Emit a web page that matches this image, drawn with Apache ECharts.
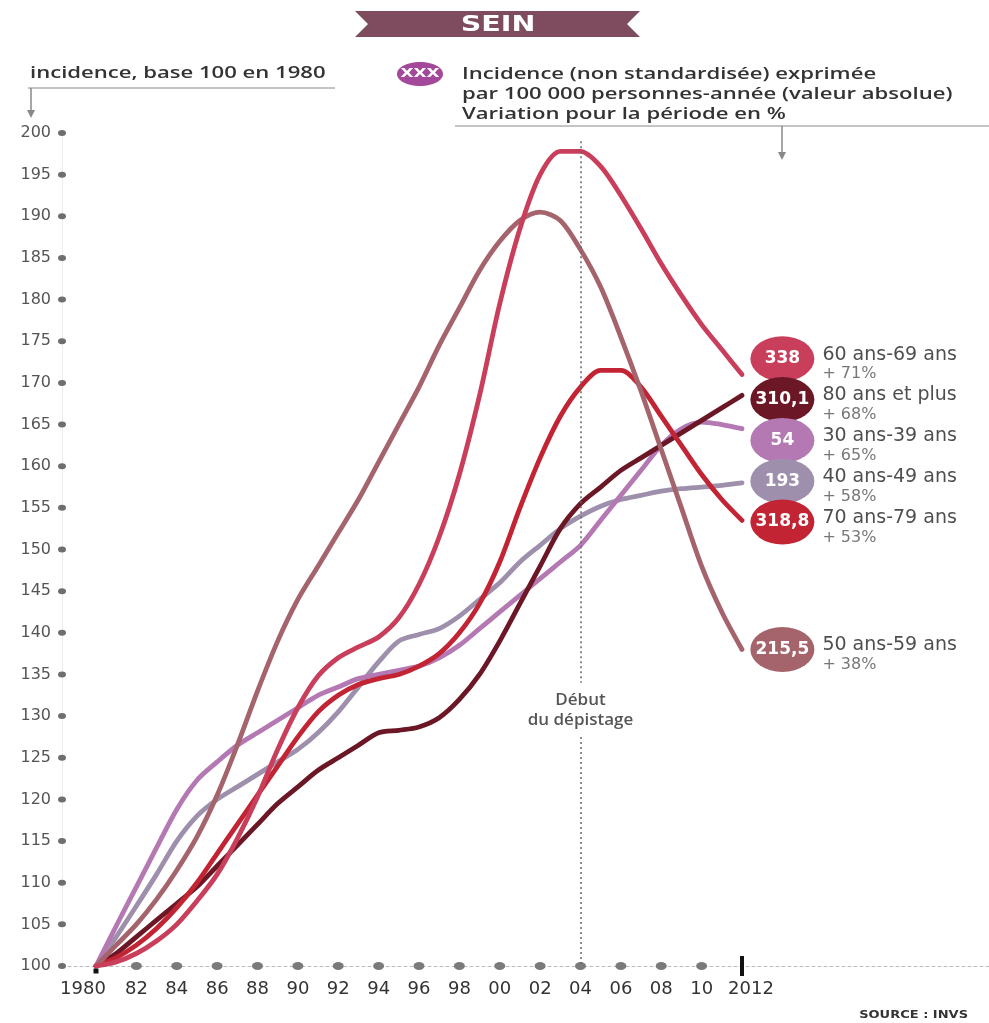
<!DOCTYPE html>
<html><head><meta charset="utf-8">
<script src="https://cdn.jsdelivr.net/npm/echarts@6/dist/echarts.min.js"></script>
<style>html,body{margin:0;padding:0;background:#fff}#c{width:989px;height:1023px}</style>
</head><body><div id="c"></div>
<script>
// ---------- DATA ----------
const years = [1980,1981,1982,1983,1984,1985,1986,1987,1988,1989,1990,1991,1992,1993,1994,1995,1996,1997,1998,1999,2000,2001,2002,2003,2004,2005,2006,2007,2008,2009,2010,2011,2012];
const v60_69 = [100,100.5,101.5,103,105,107.8,111,115.3,120.3,126,131,134.8,137,138.3,139.5,141.8,145.8,151.5,159,168.5,179.5,188.5,195,197.8,197.8,196,192.5,188.5,184.3,180.5,177,174,171];
const v80plus = [100,101.5,103.5,105.5,107.5,109.5,112,114.5,117,119.5,121.5,123.5,125,126.5,128,128.3,128.7,129.8,132,135,139,143.5,148,152.5,155.5,157.5,159.5,161,162.5,164,165.5,167,168.5];
const v30_39 = [100,104.8,109.5,114.2,118.8,122.3,124.5,126.5,128,129.5,131,132.5,133.5,134.5,135,135.5,136,137,138.5,140.5,142.5,144.5,146.5,148.5,150.5,153.5,156.5,159.5,162.5,164.5,165.3,165,164.5];
const v40_49 = [100,103.5,107.2,111,115,118,120,121.5,123,124.5,126,128,130.5,133.5,136.5,139,139.8,140.5,142,144,146,148.5,150.5,152.5,154,155.2,156,156.5,157,157.3,157.5,157.7,158];
const v70_79 = [100,101,102.5,104.5,107,110,113.5,117,120.5,124,127.5,130.5,132.5,133.8,134.5,135,136,137.5,140,143.5,148.5,155,161,166,169.5,171.5,171.5,169.5,166,162.5,159,156,153.5];
const v50_59 = [100,102.5,105,108,111.5,115.5,120.5,126.5,133,139,144,148,152,156,160.5,165,169.5,174.5,179,183.5,187,189.5,190.5,189.5,186,181.5,175.5,169,162,155,148,142.5,138];

const groupNames = ['60 ans-69 ans','80 ans et plus','30 ans-39 ans','40 ans-49 ans','70 ans-79 ans','50 ans-59 ans'];
const absIncidence = ['338','310,1','54','193','318,8','215,5'];
const variation = ['+ 71%','+ 68%','+ 65%','+ 58%','+ 53%','+ 38%'];
const groupValues = [v60_69, v80plus, v30_39, v40_49, v70_79, v50_59];

const yTicks = [100,105,110,115,120,125,130,135,140,145,150,155,160,165,170,175,180,185,190,195,200];
const xTickYears = [1980,1982,1984,1986,1988,1990,1992,1994,1996,1998,2000,2002,2004,2006,2008,2010,2012];
const screeningYear = 2004;
const screeningText = 'Début\ndu dépistage';

// ---------- STYLE ----------
const colors = ['#c93f5b','#6b1726','#b478b2','#9e90ac','#c22434','#a5646c'];
const drawOrder = [3,2,1,4,5,0];
const pxPerYear = 646/32;
const xMin = 1980 - 34/pxPerYear;
const xMax = 2012 + 247/pxPerYear;
const bubbleX = 2014;
const SX = 1.38;

function spread(vals, gap){
  const idx = vals.map((v,i)=>i).sort((a,b)=>vals[b]-vals[a]);
  const p = idx.map(i=>vals[i]);
  for (let it=0; it<300; it++){
    for (let i=0;i<p.length-1;i++){
      const d = p[i]-p[i+1];
      if (d<gap){ const s=(gap-d)/2; p[i]+=s; p[i+1]-=s; }
    }
  }
  const out = [];
  idx.forEach((gi,k)=>{ out[gi]=p[k]; });
  return out;
}
const endVals = groupValues.map(a=>a[a.length-1]);
const labelY = spread(endVals, 4.9);

const series = [];
drawOrder.forEach(i=>{
  series.push({
    type:'line', name:groupNames[i], smooth:0.3, symbol:'none', silent:true,
    data: years.map((y,k)=>[y, groupValues[i][k]]),
    lineStyle:{color:colors[i], width:4.8, cap:'round'}, z:3
  });
});
series.push({
  type:'scatter', silent:true, clip:false, symbol:'circle', symbolSize:[8,6],
  itemStyle:{color:'#6e6e6e', opacity:1}, z:2,
  data: yTicks.map(v=>[xMin, v])
});
series.push({
  type:'scatter', silent:true, clip:false, symbol:'circle', symbolSize:[11,8],
  itemStyle:{color:'#7a7a7a', opacity:1}, z:2,
  data: xTickYears.filter(y=>y>1980 && y<2012).map(y=>[y,100])
});
series.push({
  type:'scatter', silent:true, clip:false, symbol:'rect', symbolSize:[5,5], symbolOffset:[0,5],
  itemStyle:{color:'#111', opacity:1}, z:5, data:[[1980,100]]
});
series.push({
  type:'scatter', silent:true, clip:false, symbol:'rect', symbolSize:[4,20],
  itemStyle:{color:'#111', opacity:1}, z:5, data:[[2012,100]]
});
series.push({
  type:'scatter', silent:true, symbolSize:0, itemStyle:{color:'transparent'},
  data:[[screeningYear, 130.7]],
  label:{show:true, position:'inside', formatter:screeningText, fontFamily:'Open Sans', fontWeight:600,
    fontSize:17, lineHeight:20, color:'#2a2a2a'},
  markLine:{silent:true, symbol:['none','none'], label:{show:false},
    lineStyle:{type:[2,3], color:'#666', width:1.5},
    data:[[{coord:[screeningYear,199]},{coord:[screeningYear,134]}],[{coord:[screeningYear,127.5]},{coord:[screeningYear,100]}]]}
});
series.push({
  type:'scatter', silent:true, clip:false, symbol:'circle', symbolSize:[64,45], z:6,
  data: groupNames.map((n,i)=>({value:[bubbleX, labelY[i]], itemStyle:{color:colors[i], opacity:1},
    label:{formatter:absIncidence[i]}})),
  label:{show:true, position:'inside', color:'#fff', fontWeight:'bold', fontSize:17, fontFamily:'DejaVu Sans'}
});
series.push({
  type:'scatter', silent:true, clip:false, symbolSize:0, itemStyle:{color:'transparent'}, z:6,
  data: groupNames.map((n,i)=>({value:[bubbleX, labelY[i]],
    label:{formatter:'{n|'+n+'}\n{p|'+variation[i]+'}'}})),
  label:{show:true, position:'right', distance:40, offset:[0,5],
    rich:{ n:{fontSize:19, lineHeight:21, color:'#222', fontFamily:'DejaVu Sans'},
           p:{fontSize:16, lineHeight:18, color:'#555', fontFamily:'DejaVu Sans'} }}
});

const chart = echarts.init(document.getElementById('c'), null, {renderer:'canvas'});
chart.setOption({
  animation:false,
  backgroundColor:'#fff',
  grid:{left:62, right:0, top:133, bottom:57, containLabel:false},
  xAxis:{type:'value', min:xMin, max:xMax,
    axisLine:{show:true, onZero:false, lineStyle:{color:'#bbb', type:[3,3], width:1}},
    axisTick:{show:false}, splitLine:{show:false},
    axisLabel:{customValues:xTickYears, margin:14, fontSize:18, color:'#333', fontFamily:'DejaVu Sans',
      formatter:v=> v===1980 ? '{a|1980}' : (v===2012 ? '{b|2012}' : String(v%100).padStart(2,'0')),
      rich:{a:{fontSize:18, color:'#333', fontFamily:'DejaVu Sans', padding:[0,26,0,0]},
            b:{fontSize:18, color:'#333', fontFamily:'DejaVu Sans', padding:[0,0,0,18]}}}
  },
  yAxis:{type:'value', min:100, max:200, interval:5,
    axisLine:{show:true, onZero:false, lineStyle:{color:'#ececec', width:1}},
    axisTick:{show:false}, splitLine:{show:false},
    axisLabel:{margin:11, fontSize:16, color:'#555', fontFamily:'DejaVu Sans'}
  },
  graphic:[
    {type:'polygon', shape:{points:[[355,11],[640,11],[627,24],[640,37],[355,37],[368,24]]}, style:{fill:'#7e4b5f'}},
    {type:'text', x:498, y:25, scaleX:1.3, style:{text:'SEIN', fill:'#fff', font:'bold 22px "DejaVu Sans"', align:'center', verticalAlign:'middle'}},
    {type:'text', x:30, y:73, scaleX:SX, style:{text:'incidence, base 100 en 1980', fill:'#333', font:'600 16px "Open Sans"', verticalAlign:'middle'}},
    {type:'line', shape:{x1:28,y1:88,x2:335,y2:88}, style:{stroke:'#888', lineWidth:1}},
    {type:'line', shape:{x1:31,y1:88,x2:31,y2:112}, style:{stroke:'#888', lineWidth:1.5}},
    {type:'polygon', shape:{points:[[27,110],[35,110],[31,118]]}, style:{fill:'#888'}},
    {type:'ellipse', shape:{cx:420, cy:74, rx:23, ry:12}, style:{fill:'#a3489a'}},
    {type:'text', x:420, y:74, scaleX:1.3, style:{text:'XXX', fill:'#fff', font:'bold 13px "DejaVu Sans"', align:'center', verticalAlign:'middle'}},
    {type:'text', x:462, y:74, scaleX:SX, style:{text:'Incidence (non standardisée) exprimée', fill:'#333', font:'600 16px "Open Sans"', verticalAlign:'middle'}},
    {type:'text', x:462, y:94, scaleX:SX, style:{text:'par 100 000 personnes-année (valeur absolue)', fill:'#333', font:'600 16px "Open Sans"', verticalAlign:'middle'}},
    {type:'text', x:462, y:114, scaleX:SX, style:{text:'Variation pour la période en %', fill:'#333', font:'600 16px "Open Sans"', verticalAlign:'middle'}},
    {type:'line', shape:{x1:455,y1:126,x2:989,y2:126}, style:{stroke:'#888', lineWidth:1}},
    {type:'line', shape:{x1:782,y1:126,x2:782,y2:154}, style:{stroke:'#888', lineWidth:1.5}},
    {type:'polygon', shape:{points:[[778,152],[786,152],[782,160]]}, style:{fill:'#888'}},
    {type:'text', x:968, y:1015, scaleX:1.3, style:{text:'SOURCE : INVS', fill:'#333', font:'bold 10px "DejaVu Sans"', align:'right', verticalAlign:'middle'}}
  ],
  series: series
});
</script>
</body></html>
